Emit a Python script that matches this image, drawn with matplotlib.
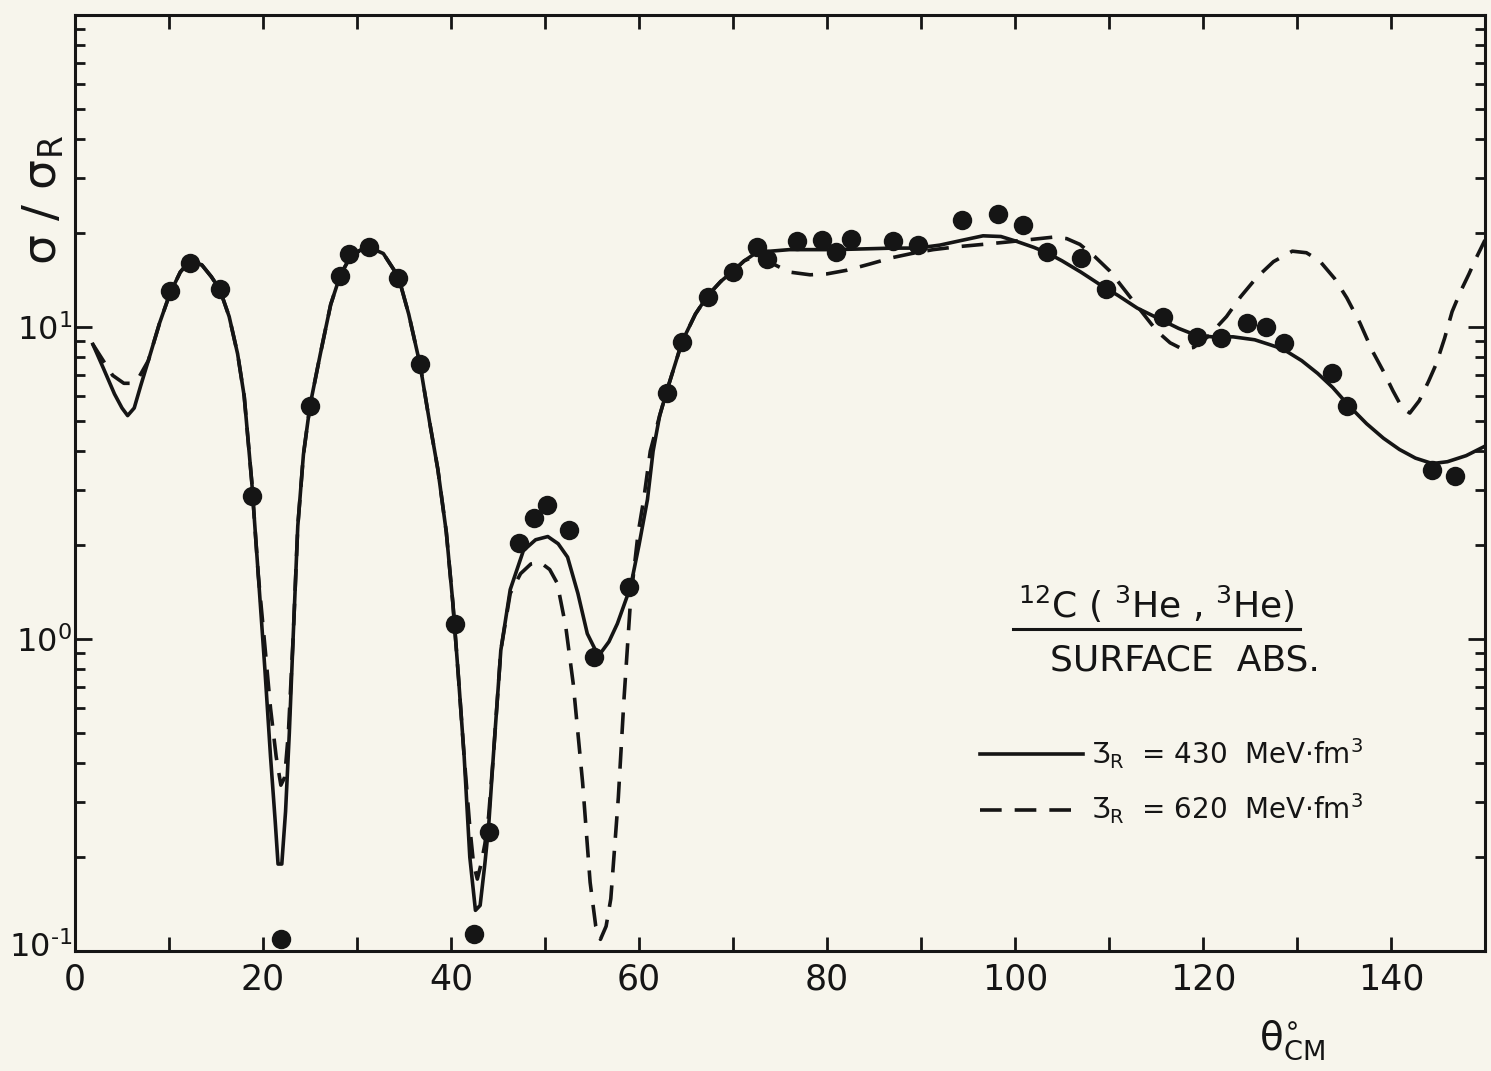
import matplotlib
matplotlib.use("Agg")
import matplotlib.pyplot as plt
import matplotlib.transforms as mtransforms
from matplotlib.ticker import FixedLocator, LogLocator, NullFormatter, NullLocator

PAPER = "#f7f5ec"
INK = "#151515"

# measured cross sections (dots)
THETA_DATA = [10.1, 12.2, 15.4, 18.8, 21.9, 25.0, 28.2, 29.2, 31.3, 34.4, 36.7, 40.4,
              42.4, 44.0, 47.2, 48.8, 50.2, 52.6, 55.2, 58.9, 63.0, 64.6, 67.3, 70.0,
              72.5, 73.6, 76.8, 79.5, 81.0, 82.6, 87.0, 89.7, 94.4, 98.2, 100.9, 103.4,
              107.0, 109.7, 115.7, 119.4, 121.9, 124.7, 126.7, 128.6, 133.7, 135.3,
              144.4, 146.8]
SIG_DATA = [13.0, 16.0, 13.2, 2.87, 0.109, 5.6, 14.6, 17.1, 18.0, 14.4, 7.6, 1.12,
            0.113, 0.24, 2.03, 2.44, 2.68, 2.23, 0.875, 1.47, 6.15, 8.96, 12.5, 15.0,
            18.0, 16.5, 18.8, 19.0, 17.4, 19.2, 18.8, 18.3, 22.1, 23.0, 21.3, 17.4,
            16.6, 13.2, 10.8, 9.3, 9.2, 10.3, 10.0, 8.9, 7.1, 5.6,
            3.47, 3.32]

# J_R = 430 MeV fm^3 (solid)
THETA_SOLID = [1.9, 3.0, 4.2, 5.0, 5.6, 6.3, 7.0, 7.8, 9.0, 10.1, 11.2, 12.3, 13.5, 14.5,
               15.4, 16.4, 17.3, 18.0, 18.8, 19.5, 20.2, 20.8, 21.3, 21.6, 22.0, 22.4,
               22.8, 23.2, 23.7, 24.3, 25.0, 26.1, 27.2, 28.2, 29.2, 30.3, 31.5, 32.8,
               34.4, 35.5, 36.7, 37.7, 38.6, 39.5, 40.2, 40.8, 41.4, 42.0, 42.6, 43.1,
               43.6, 44.0, 44.5, 45.3, 46.3, 47.7, 49.0, 50.3, 51.4, 52.4, 53.5, 54.5,
               55.3, 55.9, 56.8, 57.7, 59.1, 60.0, 60.9, 61.5, 62.2, 63.0, 64.6, 66.0,
               67.3, 68.7, 70.0, 71.2, 72.6, 74.0, 76.0, 78.0, 80.7, 84.0, 87.0, 89.6,
               92.0, 94.5, 96.6, 98.5, 100.2, 102.0, 103.4, 105.0, 107.0, 109.0, 111.0,
               113.0, 115.4, 117.4, 119.3, 121.0, 123.2, 125.5, 127.0, 128.5, 130.5,
               132.2, 133.8, 135.5, 137.4, 139.2, 140.9, 142.6, 144.4, 146.0, 148.0, 150.0]
SIG_SOLID = [8.8, 7.4, 6.1, 5.5, 5.2, 5.5, 6.5, 7.8, 10.3, 12.8, 15.0, 16.4, 15.8, 14.5,
             13.2, 10.8, 8.2, 6.0, 3.2, 1.6, 0.8, 0.42, 0.26, 0.19, 0.19, 0.28,
             0.50, 1.0, 2.3, 3.9, 5.6, 8.2, 11.8, 14.6, 16.6, 17.6, 17.9, 17.2,
             14.5, 11.0, 7.6, 5.0, 3.5, 2.2, 1.3, 0.75, 0.42, 0.20, 0.135, 0.14,
             0.19, 0.25, 0.42, 0.92, 1.44, 1.92, 2.08, 2.13, 2.02, 1.83, 1.40, 1.04,
             0.93, 0.90, 0.98, 1.12, 1.47, 2.0, 2.8, 4.0, 5.2, 6.3, 9.0, 11.0,
             12.6, 14.0, 15.1, 16.3, 17.4, 17.5, 17.7, 17.7, 17.7, 17.8, 17.9, 17.9,
             18.3, 19.0, 19.6, 19.5, 18.8, 18.0, 17.3, 16.3, 15.0, 13.7, 12.6,
             11.5, 10.6, 9.9, 9.4, 9.3, 9.3, 9.1, 8.8, 8.5, 7.8,
             7.1, 6.4, 5.6, 4.9, 4.4, 4.05, 3.8, 3.65, 3.7, 3.87, 4.15]

# J_R = 620 MeV fm^3 (dashed)
THETA_DASH = [1.9, 3.0, 4.0, 5.2, 6.0, 6.8, 7.8, 9.0, 10.1, 11.2, 12.3, 13.5, 14.5, 15.4,
              16.4, 17.3, 18.0, 18.8, 19.5, 20.2, 20.8, 21.4, 21.9, 22.3, 22.7, 23.2,
              23.7, 24.3, 25.0, 26.1, 27.2, 28.2, 29.2, 30.3, 31.5, 32.8, 34.4, 35.5,
              36.7, 37.7, 38.6, 39.5, 40.2, 40.8, 41.4, 42.0, 42.4, 42.8, 43.2, 43.6,
              44.0, 44.5, 45.3, 46.3, 47.4, 48.5, 49.5, 50.5, 51.3, 52.2, 53.0, 54.0,
              54.8, 55.4, 55.9, 56.5, 57.0, 57.8, 58.4, 59.1, 59.9, 60.5, 61.2, 62.2,
              63.0, 64.6, 66.0, 67.3, 68.7, 70.0, 71.2, 72.6, 73.6, 76.0, 78.2, 80.0,
              82.1, 84.5, 87.0, 89.0, 91.3, 94.0, 96.6, 99.0, 101.9, 104.0, 105.5,
              106.9, 108.5, 110.1, 112.5, 115.1, 116.5, 117.8, 119.0, 120.5, 122.5,
              124.0, 125.7, 127.5, 129.5, 131.0, 132.4, 134.0, 135.3, 136.7, 138.0,
              139.2, 140.2, 141.2, 142.0, 143.0, 144.0, 144.8, 145.7, 146.5, 147.4,
              148.3, 149.0, 150.0]
SIG_DASH = [8.8, 7.8, 7.0, 6.6, 6.6, 6.9, 7.8, 10.3, 12.8, 15.0, 16.4, 15.8, 14.5, 13.2,
            10.8, 8.2, 6.0, 3.2, 1.6, 0.95, 0.6, 0.42, 0.34, 0.36, 0.5, 1.0,
            2.3, 3.9, 5.6, 8.2, 11.8, 14.6, 16.6, 17.6, 17.9, 17.2, 14.5, 11.0,
            7.6, 5.0, 3.5, 2.2, 1.3, 0.75, 0.42, 0.25, 0.19, 0.17, 0.19, 0.22,
            0.27, 0.42, 0.92, 1.4, 1.62, 1.74, 1.76, 1.67, 1.51, 1.1, 0.72, 0.347,
            0.166, 0.12, 0.109, 0.12, 0.147, 0.31, 0.64, 1.33, 2.18, 2.8, 4.0, 5.2,
            6.3, 9.0, 11.0, 12.6, 14.0, 15.1, 16.3, 17.0, 16.3, 15.0, 14.7, 14.8,
            15.2, 15.9, 16.7, 17.2, 17.7, 18.1, 18.4, 18.7, 19.1, 19.4, 19.2,
            18.4, 16.8, 15.1, 12.2, 9.7, 8.9, 8.5, 8.6, 9.3, 10.8,
            12.5, 14.4, 16.2, 17.5, 17.3, 16.3, 14.3, 12.4, 10.3, 8.4,
            7.2, 6.25, 5.5, 5.3, 5.8, 6.7, 7.6, 9.2, 11.2, 13.0,
            14.8, 16.5, 19.0]

X_TICKS = [0, 10, 20, 30, 40, 50, 60, 70, 80, 90, 100, 110, 120, 130, 140, 150]
X_LABELS = ["0", "", "20", "", "40", "", "60", "", "80", "", "100", "", "120", "", "140", ""]
Y_TICKS = [0.1, 1, 10, 100]
Y_LABELS = ["10$^{\u20101}$", "10$^{0}$", "10$^{1}$", ""]

plt.rcParams["font.family"] = ["DejaVu Sans"]
plt.rcParams["mathtext.default"] = "regular"

W, H = 1491, 1071
fig = plt.figure(figsize=(W / 100, H / 100), dpi=100, facecolor=PAPER)
ax = fig.add_axes([75 / W, 1 - 951 / H, 1410 / W, 936 / H], facecolor=PAPER)

ax.plot(THETA_SOLID, SIG_SOLID, color=INK, lw=2.6, solid_joinstyle="round",
        label=r"Ʒ$_R$  = 430  MeV$\cdot$fm$^3$")
ax.plot(THETA_DASH, SIG_DASH, color=INK, lw=2.6, dashes=(6, 3.6),
        label=r"Ʒ$_R$  = 620  MeV$\cdot$fm$^3$")
ax.plot(THETA_DATA, SIG_DATA, "o", color=INK, ms=14, mew=0, clip_on=False)

ax.set_yscale("log")
ax.set_xlim(0, 150)
ax.set_ylim(0.1, 100)

ax.xaxis.set_major_locator(FixedLocator(X_TICKS))
ax.set_xticklabels(X_LABELS)
ax.xaxis.set_minor_locator(NullLocator())
ax.yaxis.set_major_locator(FixedLocator(Y_TICKS))
ax.set_yticklabels(Y_LABELS)
ax.yaxis.set_minor_locator(LogLocator(base=10, subs=range(2, 10)))
ax.yaxis.set_minor_formatter(NullFormatter())

ax.tick_params(which="both", direction="in", top=True, right=True, color=INK,
               labelcolor=INK)
ax.tick_params(axis="x", which="major", length=10, width=2, labelsize=25, pad=8)
ax.tick_params(axis="y", which="major", length=12, width=2, labelsize=23, pad=2)
ax.tick_params(axis="y", which="minor", length=7.5, width=2)
for s in ax.spines.values():
    s.set_linewidth(2.2)
    s.set_color(INK)

# lift the bottom decade label a little so it clears the "0"
lbl = ax.get_yticklabels()[0]
lbl.set_transform(lbl.get_transform() +
                  mtransforms.ScaledTranslation(0, 5 / 72, fig.dpi_scale_trans))

# axis titles
fig.text(44 / W, 1 - 200 / H, r"σ / σ$_R$", rotation=90, ha="center", va="center",
         fontsize=34, color=INK)
fig.text(1292 / W, 1 - 1040 / H, r"$\theta^{\circ}_{CM}$", ha="center", va="center",
         fontsize=28, color=INK)

# reaction label
ax.text(0.767, 0.356, r"$^{12}$C ( $^{3}$He , $^{3}$He)", transform=ax.transAxes,
        ha="center", va="baseline", fontsize=26, color=INK)
ax.plot([0.665, 0.869], [0.344, 0.344], transform=ax.transAxes, color=INK, lw=2.2,
        clip_on=False)
ax.text(0.787, 0.300, "SURFACE  ABS.", transform=ax.transAxes, ha="center",
        va="baseline", fontsize=26, color=INK)

ax.legend(loc="upper left", bbox_to_anchor=(980 / W, 1 - 736 / H),
          bbox_transform=fig.transFigure, frameon=False, fontsize=20,
          handlelength=3.7, handletextpad=0.3, labelspacing=0.75, borderpad=0,
          borderaxespad=0, labelcolor=INK)

fig.savefig("out.png", dpi=100, facecolor=PAPER)
